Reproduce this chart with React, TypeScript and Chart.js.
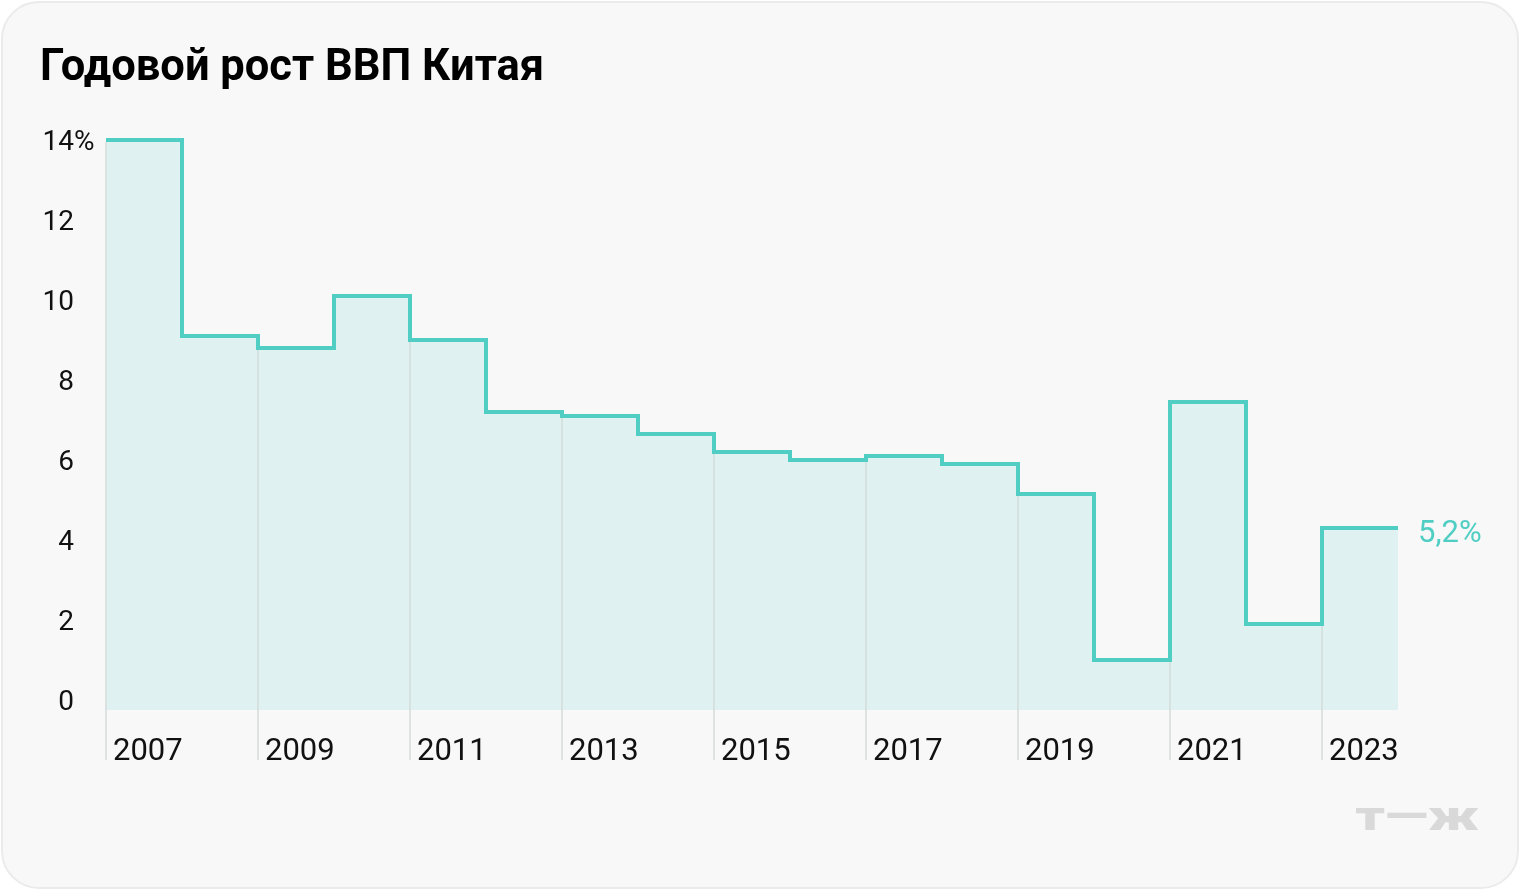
import React, { useEffect, useRef } from "react";
import { Chart, registerables } from "chart.js";

Chart.register(...registerables);

const years = ["2007","2008","2009","2010","2011","2012","2013","2014","2015","2016","2017","2018","2019","2020","2021","2022","2023"];
const growth = [14.0, 9.1, 8.8, 10.1, 9.0, 7.2, 7.1, 6.65, 6.2, 6.0, 6.1, 5.9, 5.15, 1.0, 7.45, 1.9, 4.3];
const yTicks = [0, 2, 4, 6, 8, 10, 12, 14];
const xTickIdx = [0, 2, 4, 6, 8, 10, 12, 14, 16];
const title = "Годовой рост ВВП Китая";
const lastLabel = "5,2%";
const logo = "т—ж";

const TEAL = "#50cec4";
const FILL = "#dff1f0";
const GRID = "#d3dcdb";
const FONT = "Roboto, 'DejaVu Sans', sans-serif";

export default function App() {
  const ref = useRef<HTMLCanvasElement | null>(null);

  useEffect(() => {
    document.body.style.margin = "0";
    const canvas = ref.current!;
    const pts = growth.map((v, i) => ({ x: i, y: v }));
    pts.push({ x: growth.length, y: growth[growth.length - 1] });

    const decor = {
      id: "decor",
      afterDatasetsDraw(chart: any) {
        const { ctx } = chart;
        const xs = chart.scales.x;
        const ys = chart.scales.y;
        ctx.save();
        // vertical grid lines at odd years
        ctx.strokeStyle = GRID;
        ctx.lineWidth = 1.5;
        xTickIdx.forEach((i) => {
          const x = xs.getPixelForValue(i);
          const prev = i > 0 ? growth[i - 1] : growth[i];
          const top = ys.getPixelForValue(Math.min(prev, growth[i])) + 2;
          ctx.beginPath();
          ctx.moveTo(x, top);
          ctx.lineTo(x, 760);
          ctx.stroke();
        });
        // percent sign after top tick
        ctx.fillStyle = "#111";
        ctx.font = `28px ${FONT}`;
        ctx.textBaseline = "middle";
        ctx.textAlign = "left";
        ctx.fillText("%", 74, ys.getPixelForValue(14) + 3);
        // last value label
        ctx.fillStyle = TEAL;
        ctx.font = `31px ${FONT}`;
        ctx.textBaseline = "alphabetic";
        ctx.fillText(lastLabel, xs.getPixelForValue(growth.length) + 20, ys.getPixelForValue(growth[growth.length - 1]) + 14);
        // title
        ctx.fillStyle = "#000";
        ctx.font = `bold 43.5px ${FONT}`;
        ctx.fillText(title, 40, 80);
        // logo
        ctx.fillStyle = "#d9d9d9";
        ctx.font = `900 40px ${FONT}`;
        ctx.textAlign = "right";
        ctx.translate(1479, 830);
        ctx.scale(1.42, 1);
        ctx.fillText(logo, 0, 0);
        ctx.restore();
      },
    };

    const chart = new Chart(canvas, {
      type: "line",
      data: {
        datasets: [
          {
            data: pts,
            stepped: true,
            borderColor: TEAL,
            borderWidth: 4,
            backgroundColor: FILL,
            fill: "start",
            pointRadius: 0,
            clip: false as any,
            borderJoinStyle: "miter",
            borderCapStyle: "butt",
          },
        ],
      },
      options: {
        animation: false,
        responsive: false,
        devicePixelRatio: 1,
        layout: { padding: { left: 36, right: 122, top: 140, bottom: 120 } },
        plugins: { legend: { display: false }, tooltip: { enabled: false }, title: { display: false } },
        scales: {
          x: {
            type: "linear",
            min: 0,
            max: growth.length,
            grid: { display: false },
            border: { display: false },
            afterBuildTicks: (s: any) => {
              s.ticks = xTickIdx.map((v) => ({ value: v }));
            },
            afterFit: (s: any) => {
              s.height = 60;
            },
            ticks: {
              align: "start",
              labelOffset: 7,
              padding: 16,
              maxRotation: 0,
              autoSkip: false,
              color: "#111",
              font: { family: FONT, size: 31 },
              callback: (v: any) => years[v as number] ?? "",
            },
          },
          y: {
            type: "linear",
            min: -0.25,
            max: 14,
            grid: { display: false },
            border: { display: false },
            afterBuildTicks: (s: any) => {
              s.ticks = yTicks.map((v) => ({ value: v }));
            },
            afterFit: (s: any) => {
              s.width = 70;
            },
            ticks: {
              padding: 24,
              labelOffset: 3,
              color: "#111",
              font: { family: FONT, size: 28 },
              callback: (v: any) => String(v),
            },
          },
        },
      },
      plugins: [decor],
    });
    return () => chart.destroy();
  }, []);

  return (
    <div style={{ position: "fixed", left: 0, top: 0, width: 1520, height: 890 }}>
      <div
        style={{
          position: "absolute",
          left: 1,
          top: 1,
          width: 1518,
          height: 888,
          boxSizing: "border-box",
          background: "#f8f8f8",
          border: "2px solid #ebebeb",
          borderRadius: 38,
        }}
      />
      <canvas ref={ref} width={1520} height={890} style={{ position: "absolute", left: 0, top: 0 }} />
    </div>
  );
}
